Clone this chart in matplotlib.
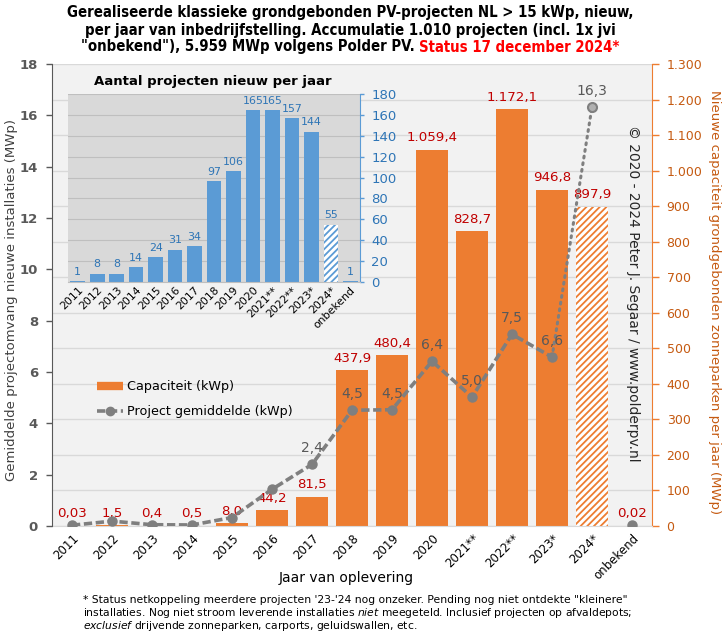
import matplotlib
matplotlib.use('Agg')
import matplotlib.pyplot as plt
from matplotlib import font_manager
from matplotlib.font_manager import FontProperties
from matplotlib.lines import Line2D
from matplotlib.ticker import FuncFormatter, MultipleLocator

# ---------------- data ----------------
categories = ['2011', '2012', '2013', '2014', '2015', '2016', '2017', '2018',
              '2019', '2020', '2021**', '2022**', '2023*', '2024*', 'onbekend']
capacity_mwp = [0.03, 1.5, 0.4, 0.5, 8.0, 44.2, 81.5, 437.9, 480.4, 1059.4,
                828.7, 1172.1, 946.8, 897.9, 0.02]
capacity_labels = ['0,03', '1,5', '0,4', '0,5', '8,0', '44,2', '81,5', '437,9',
                   '480,4', '1.059,4', '828,7', '1.172,1', '946,8', '897,9', '0,02']
avg_mwp = [0.03, 0.19, 0.05, 0.04, 0.33, 1.43, 2.40, 4.51, 4.53, 6.42, 5.02,
           7.47, 6.58, 16.33, 0.02]
avg_labels = ['', '', '', '', '', '', '2,4', '4,5', '4,5', '6,4', '5,0', '7,5',
              '6,6', '16,3', '']
counts = [1, 8, 8, 14, 24, 31, 34, 97, 106, 165, 165, 157, 144, 55, 1]

title_l1 = 'Gerealiseerde klassieke grondgebonden PV-projecten NL > 15 kWp, nieuw,'
title_l2 = 'per jaar van inbedrijfstelling. Accumulatie 1.010 projecten (incl. 1x jvi'
title_l3a = '"onbekend"), 5.959 MWp volgens Polder PV. '
title_l3b = 'Status 17 december 2024*'
foot = ['* Status netkoppeling meerdere projecten \'23-\'24 nog onzeker. Pending nog niet ontdekte "kleinere"',
        'installaties. Nog niet stroom leverende installaties $\\it{niet}$ meegeteld. Inclusief projecten op afvaldepots;',
        '$\\it{exclusief}$ drijvende zonneparken, carports, geluidswallen, etc.']

ORANGE = '#ed7d31'
ORANGE_TXT = '#c55a11'
RED = '#c00000'
GRAY = '#7f7f7f'
DGRAY = '#595959'
BLUE = '#5b9bd5'
BLUE_TXT = '#2e75b6'

W, H = 727, 635
plt.rcParams['font.family'] = ['DejaVu Sans']
plt.rcParams['hatch.linewidth'] = 1.3
plt.rcParams['mathtext.fontset'] = 'dejavusans'

# pick a condensed bold font for the title if available
cond = None
for pref in ['liberationsansnarrow-bold.ttf', 'dejavusanscondensed-bold.ttf']:
    for f in font_manager.fontManager.ttflist:
        if f.fname.lower().endswith(pref):
            cond = f.fname
            break
    if cond:
        break

fig = plt.figure(figsize=(W / 100, H / 100), dpi=100)
fig.patch.set_facecolor('white')

def fx(px):
    return px / W

def fy(py):
    return 1 - py / H

ax = fig.add_axes([fx(52), fy(526), 600 / W, 462 / H])
ax.set_facecolor('#f2f2f2')
x = list(range(len(categories)))
bars = ax.bar(x, capacity_mwp, width=0.78, color=ORANGE, zorder=2, linewidth=0)
bars[13].set_facecolor('white')
bars[13].set_edgecolor(ORANGE)
bars[13].set_hatch('/////')
ax.set_xlim(-0.5, len(categories) - 0.5)
ax.set_ylim(0, 1300)

# line on twin axis (left scale)
axl = ax.twinx()
ax.yaxis.tick_right()
axl.yaxis.tick_left()

ax.yaxis.set_major_locator(MultipleLocator(100))
ax.yaxis.set_major_formatter(FuncFormatter(lambda v, p: f'{int(round(v)):,}'.replace(',', '.')))
ax.tick_params(axis='y', which='both', left=False, labelleft=False, right=True, labelright=True,
               color=ORANGE, labelcolor=ORANGE_TXT, labelsize=9, length=5, width=1,
               direction='out', pad=5.5)
ax.grid(axis='y', color='#d9d9d9', lw=1)
ax.set_axisbelow(True)
ax.set_xticks(x)
ax.set_xticklabels(categories, rotation=45, ha='right', rotation_mode='anchor', fontsize=8.5)
ax.tick_params(axis='x', length=0, pad=4)
for s in ['top', 'left']:
    ax.spines[s].set_visible(False)
ax.spines['right'].set_color(ORANGE)
ax.spines['bottom'].set_color('#d9d9d9')

for i, lab in enumerate(capacity_labels):
    ax.annotate(lab, (i, capacity_mwp[i]), xytext=(0, 4), textcoords='offset points',
                ha='center', va='bottom', color=RED, fontsize=9.6, zorder=5)

axl.set_ylim(0, 18)
axl.yaxis.set_major_locator(MultipleLocator(2))
axl.tick_params(axis='y', which='both', right=False, labelright=False, left=True, labelleft=True,
                color=DGRAY, labelcolor=DGRAY, labelsize=9.5, length=4, width=1,
                direction='out', pad=6)
for lbl in axl.get_yticklabels():
    lbl.set_fontweight('bold')
for s in ['top', 'right', 'bottom']:
    axl.spines[s].set_visible(False)
axl.spines['left'].set_color(DGRAY)

dash = (0, (2.3, 1.0))
axl.plot(x[:13], avg_mwp[:13], color=GRAY, lw=2.6, ls=dash, marker='o', ms=6.5, zorder=3)
axl.plot(x[12:14], avg_mwp[12:14], color=GRAY, lw=2.2, ls=(0, (0.6, 1.6)),
         dash_capstyle='round', zorder=3)
axl.plot(x[13:14], avg_mwp[13:14], ls='none', marker='o', ms=6.5, mfc='#b0b0b0', mec=GRAY,
         mew=1.5, zorder=4)
axl.plot(x[14:15], avg_mwp[14:15], ls='none', marker='o', ms=6.5, color=GRAY, zorder=4)
for i, lab in enumerate(avg_labels):
    if lab:
        axl.annotate(lab, (i, avg_mwp[i]), xytext=(0, 6.5), textcoords='offset points',
                     ha='center', va='bottom', color=DGRAY, fontsize=10, zorder=6)

leg = axl.legend(handles=[Line2D([], [], color=ORANGE, lw=6, solid_capstyle='butt'),
                          Line2D([], [], color=GRAY, lw=2.6, ls=dash, marker='o', ms=6)],
                 labels=['Capaciteit (kWp)', 'Project gemiddelde (kWp)'],
                 loc='upper left', bbox_to_anchor=(fx(97), fy(380)), bbox_transform=fig.transFigure,
                 frameon=False, fontsize=9.2, handlelength=2.0, labelspacing=0.95,
                 handletextpad=0.35, borderaxespad=0, borderpad=0)

# ---------------- inset ----------------
axi = fig.add_axes([fx(68), fy(282), 292 / W, 188 / H])
axi.set_facecolor('#d9d9d9')
ib = axi.bar(x, counts, width=0.75, color=BLUE, zorder=2, linewidth=0)
ib[13].set_facecolor('white')
ib[13].set_edgecolor(BLUE)
ib[13].set_hatch('/////')
axi.set_xlim(-0.5, len(categories) - 0.5)
axi.set_ylim(0, 180)
axi.yaxis.tick_right()
axi.yaxis.set_major_locator(MultipleLocator(20))
axi.tick_params(axis='y', color=BLUE, labelcolor=BLUE_TXT, labelsize=9.5, length=3, width=1,
                direction='out', pad=5)
axi.grid(axis='y', color='#bfbfbf', lw=0.8)
axi.set_axisbelow(True)
axi.set_xticks(x)
axi.set_xticklabels(categories, rotation=45, ha='right', rotation_mode='anchor', fontsize=7.8)
axi.tick_params(axis='x', length=0, pad=2)
for s in ['top', 'left']:
    axi.spines[s].set_visible(False)
axi.spines['right'].set_color(BLUE)
axi.spines['bottom'].set_color('#bfbfbf')
for i, c in enumerate(counts):
    axi.annotate(str(c), (i, c), xytext=(0, 3), textcoords='offset points',
                 ha='center', va='bottom', color=BLUE_TXT, fontsize=7.9)
fig.text(fx(213), fy(81), 'Aantal projecten nieuw per jaar', ha='center', va='center',
         fontsize=9.5, fontweight='bold', color='black')

# ---------------- texts ----------------
fig.text(fx(12), fy(300), 'Gemiddelde projectomvang nieuwe installaties (MWp)', rotation=90,
         ha='center', va='center', fontsize=9.5, color='#404040')
fig.text(fx(715), fy(302), 'Nieuwe capaciteit grondgebonden zonneparken per jaar (MWp)',
         rotation=270, ha='center', va='center', fontsize=9.5, color=ORANGE_TXT)
fig.text(fx(633), fy(293), '\u00a9 2020 - 2024 Peter J. Segaar / www.polderpv.nl',
         rotation=270, ha='center', va='center', fontsize=10, color='#262626')
fig.text(fx(346), fy(578), 'Jaar van oplevering', ha='center', va='center', fontsize=10,
         color='black')
for k, line in enumerate(foot):
    fig.text(fx(83), fy(600 + 13 * k), line, ha='left', va='center', fontsize=7.75, color='black')

# title with fitted size
if cond:
    tp = FontProperties(fname=cond, size=10)
else:
    tp = FontProperties(family='DejaVu Sans', weight='bold', size=10)
t1 = fig.text(fx(350), fy(12), title_l1, ha='center', va='center', fontproperties=tp)
fig.canvas.draw()
r = fig.canvas.get_renderer()
w1 = t1.get_window_extent(r).width
size = 10 * 564 / w1
tp.set_size(size)
t1.set_fontproperties(tp)
t2 = fig.text(fx(350), fy(30), title_l2, ha='center', va='center', fontproperties=tp)
t3a = fig.text(0, fy(47), title_l3a, ha='left', va='center', fontproperties=tp, color='black')
t3b = fig.text(0, fy(47), title_l3b, ha='left', va='center', fontproperties=tp, color='#ff0000')
fig.canvas.draw()
wa = t3a.get_window_extent(r).width
wb = t3b.get_window_extent(r).width
start = 350 - (wa + wb) / 2
t3a.set_x(fx(start))
t3b.set_x(fx(start + wa))

fig.savefig('out.png', dpi=100)
